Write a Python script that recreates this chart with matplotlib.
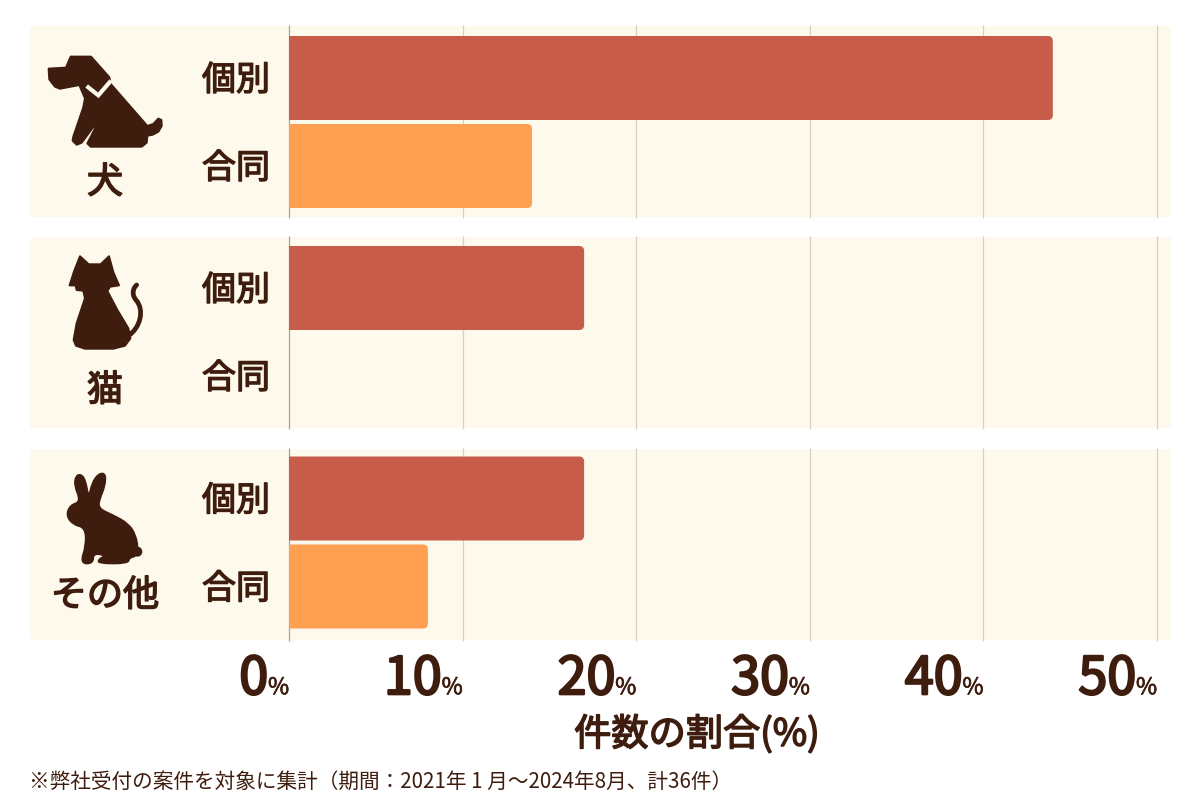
import matplotlib
matplotlib.use('Agg')
import matplotlib.pyplot as plt
import matplotlib.patheffects as pe
from matplotlib.patches import FancyBboxPatch, PathPatch, Rectangle, Circle
from matplotlib.path import Path

plt.rcParams['font.family'] = ['Noto Sans CJK JP', 'DejaVu Sans']

ANIMALS = ['犬', '猫', 'その他']
KINDS = ['個別', '合同']
KOBETSU = [44, 17, 17]
GODO = [14, 0, 8]
TICKS = [0, 10, 20, 30, 40, 50]
XLABEL = '件数の割合(%)'
NOTE = '※弊社受付の案件を対象に集計（期間：2021年 1 月～2024年8月、計36件）'

BROWN = '#3f1d0e'
RED = '#c75c4b'
ORANGE = '#ff9f52'
BAND = '#fdf9ec'
GRID = '#d5d1c5'
AXIS = '#a8a496'

W, H = 1200, 800
BAND_LEFT, BAND_RIGHT = 30, 1171
BAND_TOPS = [26, 237, 449]
FIRST_ROW_OFFSETS = [52, 51, 49.5]
BAND_H = 191
PX_PER_PCT = 17.36
ZERO_X = 289
ROW_PITCH = 88
BAR_H = 84


def rounded(stroke=1.0):
    # thickens glyphs with round joins so strokes end soft
    return [pe.withStroke(linewidth=stroke, foreground=BROWN, joinstyle='round', capstyle='round')]


def add_bar(ax, y, value, color):
    if value <= 0:
        return
    # start left of zero and clip there so only the right corners stay rounded
    box = FancyBboxPatch((-1, y - BAR_H / ROW_PITCH / 2), value + 1, BAR_H / ROW_PITCH,
                         boxstyle=f'round,pad=0,rounding_size={5 / PX_PER_PCT}',
                         mutation_aspect=PX_PER_PCT / ROW_PITCH,
                         fc=color, ec='none', zorder=3)
    ax.add_patch(box)
    box.set_clip_path(Rectangle((0, -5), 100, 10, transform=ax.transData))


def draw_poly(ov, pts, ox, oy, lw=1.5, smooth=False):
    # icon outlines are listed at 3x scale relative to (ox, oy)
    scaled = [(ox + x / 3, oy + y / 3) for x, y in pts]
    if smooth:
        # quadratic segments through edge midpoints
        n = len(scaled)
        mids = [((scaled[k][0] + scaled[(k + 1) % n][0]) / 2, (scaled[k][1] + scaled[(k + 1) % n][1]) / 2)
                for k in range(n)]
        verts, codes = [mids[-1]], [Path.MOVETO]
        for k in range(n):
            verts += [scaled[k], mids[k]]
            codes += [Path.CURVE3, Path.CURVE3]
        verts.append((0, 0))
        codes.append(Path.CLOSEPOLY)
    else:
        verts = scaled + [(0, 0)]
        codes = [Path.MOVETO] + [Path.LINETO] * (len(pts) - 1) + [Path.CLOSEPOLY]
    ov.add_patch(PathPatch(Path(verts, codes), fc=BROWN, ec=BROWN, lw=lw, joinstyle='round'))


def draw_curve(ov, pts, ox, oy, color, lw):
    verts = [(ox + x / 3, oy + y / 3) for x, y in pts]
    codes = [Path.MOVETO] + [Path.CURVE4] * (len(pts) - 1)
    ov.add_patch(PathPatch(Path(verts, codes), fc='none', ec=color, lw=lw, capstyle='round'))


def draw_dog(ov):
    ox, oy = 30, 20
    draw_poly(ov, [(122, 110), (183, 110), (238, 172), (242, 192), (352, 318),
                   (370, 312), (385, 296), (394, 300), (395, 318), (385, 335), (368, 344),
                   (352, 347), (350, 368), (335, 380), (182, 380), (172, 370), (180, 355),
                   (197, 322), (192, 318), (155, 368), (140, 374), (128, 362), (130, 350),
                   (160, 262), (165, 235), (148, 195), (90, 206), (75, 200), (58, 178),
                   (56, 146), (108, 143)], ox, oy)
    pts = [(170, 198), (205, 226), (243, 182)]
    verts = [(ox + x / 3, oy + y / 3) for x, y in pts]
    ov.add_patch(PathPatch(Path(verts), fc='none', ec=BAND, lw=3.0, joinstyle='miter', capstyle='butt'))


def draw_cat(ov):
    ox, oy = 30, 235
    draw_curve(ov, [(295, 302), (330, 280), (345, 225), (318, 195), (305, 180), (308, 160), (320, 150)],
               ox, oy, BROWN, 3.4)
    draw_poly(ov, [(150, 64), (176, 88), (212, 88), (237, 64), (250, 112), (267, 151), (240, 155),
                   (232, 168), (262, 225), (295, 280), (301, 310), (285, 332), (250, 341),
                   (165, 341), (138, 332), (131, 315), (140, 265), (165, 190), (160, 167),
                   (140, 165), (137, 151), (119, 151), (132, 110)], ox, oy)


def draw_rabbit(ov):
    ox, oy = 30, 445
    draw_poly(ov, [(152, 170), (132, 120), (138, 90), (156, 88), (168, 110), (176, 158),
                   (185, 115), (205, 85), (228, 85), (225, 125), (210, 160), (205, 190),
                   (250, 210), (295, 235), (318, 270), (325, 315), (318, 335), (298, 338),
                   (295, 356), (205, 356), (205, 342), (228, 332), (190, 325), (190, 356),
                   (150, 356), (168, 300), (165, 248), (130, 240), (108, 212), (120, 180)],
              ox, oy, lw=1.0, smooth=True)
    ov.add_patch(Circle((ox + 322 / 3, oy + 320 / 3), 5, fc=BROWN, ec='none'))


def main():
    fig = plt.figure(figsize=(W / 100, H / 100), dpi=100, facecolor='white')

    # rounded band backgrounds sit in their own pixel-scaled layer
    bg = fig.add_axes([0, 0, 1, 1])
    bg.set_xlim(0, W)
    bg.set_ylim(H, 0)
    bg.axis('off')
    for top in BAND_TOPS:
        bg.add_patch(FancyBboxPatch((BAND_LEFT, top), BAND_RIGHT - BAND_LEFT, BAND_H,
                                    boxstyle='round,pad=0,rounding_size=3', fc=BAND, ec='none'))

    for i, top in enumerate(BAND_TOPS):
        ax = fig.add_axes([BAND_LEFT / W, 1 - (top + BAND_H) / H,
                           (BAND_RIGHT - BAND_LEFT) / W, BAND_H / H])
        ax.patch.set_visible(False)
        ax.set_xlim((BAND_LEFT - ZERO_X) / PX_PER_PCT, (BAND_RIGHT - ZERO_X) / PX_PER_PCT)
        first = FIRST_ROW_OFFSETS[i]
        ax.set_ylim((BAND_H - first) / ROW_PITCH, -first / ROW_PITCH)
        for s in ax.spines.values():
            s.set_visible(False)
        ax.set_xticks([])
        ax.set_yticks([])

        for t in TICKS:
            ax.plot([t, t], [-0.005, 1.005], transform=ax.get_xaxis_transform(),
                    color=AXIS if t == 0 else GRID, lw=0.9, zorder=2, clip_on=False,
                    solid_capstyle='butt')

        add_bar(ax, 0, KOBETSU[i], RED)
        add_bar(ax, 1, GODO[i], ORANGE)

        for j, kind in enumerate(KINDS):
            ax.annotate(kind, xy=(0, j), xytext=(-38.2, -2), textcoords='offset points',
                        ha='center', va='center', fontsize=24.5, color=BROWN, path_effects=rounded(1.0))

        # % sign ends on the gridline, the number sits just left of it
        if i == len(BAND_TOPS) - 1:
            for t in TICKS:
                ax.annotate('%', xy=(t, 0), xycoords=ax.get_xaxis_transform(), xytext=(0, -39),
                            textcoords='offset points', ha='right', va='baseline', fontsize=16.5,
                            color=BROWN, path_effects=rounded(0.5))
                ax.annotate(str(t), xy=(t, 0), xycoords=ax.get_xaxis_transform(), xytext=(-15, -39),
                            textcoords='offset points', ha='right', va='baseline', fontsize=37.5,
                            color=BROWN, path_effects=rounded(1.7))

    # overlay in figure pixels for the icons and free-standing text
    ov = fig.add_axes([0, 0, 1, 1])
    ov.set_xlim(0, W)
    ov.set_ylim(H, 0)
    ov.axis('off')
    ov.patch.set_alpha(0)

    draw_dog(ov)
    draw_cat(ov)
    draw_rabbit(ov)

    for name, y in zip(ANIMALS, [183, 391, 596]):
        ov.text(105, y, name, ha='center', va='center', fontsize=26, color=BROWN, path_effects=rounded(1.1))
    ov.text(697, 735, XLABEL, ha='center', va='center', fontsize=26.8, color=BROWN, path_effects=rounded(1.1))
    ov.text(29, 782, NOTE, ha='left', va='center', fontsize=14.85, color=BROWN)

    fig.savefig('out.png', dpi=100)


if __name__ == '__main__':
    main()
